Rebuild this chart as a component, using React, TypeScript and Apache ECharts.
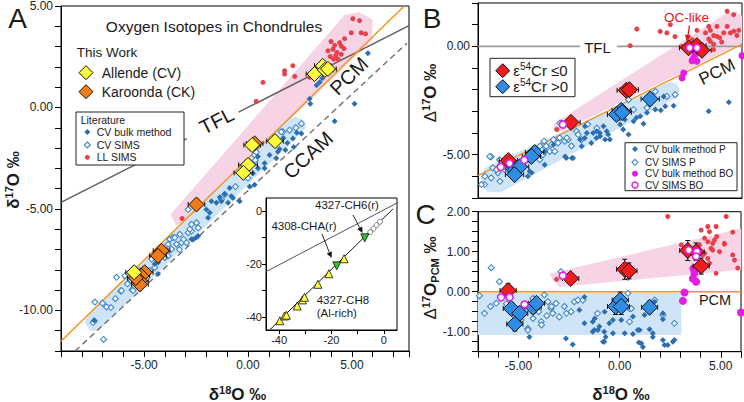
import React, { useEffect, useRef } from 'react';
import * as echarts from 'echarts';

const FONT = '"Liberation Sans", Arial, Helvetica, sans-serif';

// ---------------- Panel A: d17O vs d18O ----------------
const A_LL_SIMS = [[5.05,4.37],[5.37,4.28],[4.97,3.68],[5.45,3.68],[5.66,3.63],[4.65,3.39],[4.41,3.19],[4.17,3.06],[4.49,3.03],[3.85,2.79],[4.09,2.87],[4.28,2.71],[4.22,2.55],[4.49,2.62],[3.96,2.51],[4.33,2.38],[4.12,2.38],[2.16,2.06],[1.76,1.81],[1.76,1.65],[2.25,1.53],[0.72,1.24],[2.97,1.49],[3.21,1.44],[0.4,0.3],[-3.17,-5.47],[4.0,3.25],[4.62,2.9]];
const A_CV_BULK = [[5.77,2.67],[2.97,0.43],[3.0,0.18],[5.13,0.18],[4.17,-0.68],[3.45,1.24],[3.58,1.44],[3.3,1.1],[2.57,-1.28],[2.16,-1.53],[1.9,-1.75],[2.2,-1.95],[1.8,-2.1],[1.36,-2.5],[0.8,-3.0],[1.04,-2.34],[0.8,-2.75],[0.48,-3.0],[0.24,-3.24],[0.32,-3.81],[-0.88,-3.97],[-1.12,-4.26],[-1.36,-4.43],[-0.72,-4.46],[-1.52,-4.7],[-0.96,-4.7],[-1.84,-5.19],[-2.0,-5.03],[-1.92,-5.44],[-2.48,-6.41],[-2.64,-6.49],[1.44,-2.18],[1.52,-2.05],[0.48,-2.42],[0.08,-3.89],[-0.4,-4.62],[-1.76,-4.62],[-1.28,-4.62],[-0.8,-4.38],[-2.4,-6.33],[-2.72,-6.49],[-4.49,-7.71],[-4.33,-8.2],[-4.33,-7.64],[-7.4,-10.5],[1.7,-1.5],[2.35,-1.25]];
const A_CV_SIMS = [[-6.33,-8.37],[-7.37,-9.59],[-6.95,-11.43],[-7.0,-9.64],[-6.6,-9.86],[-6.38,-9.42],[-6.12,-9.05],[-5.93,-8.29],[-5.8,-8.69],[-5.58,-8.98],[-7.4,-10.52],[-7.45,-10.6],[-6.81,-9.83],[-5.61,-8.53],[-5.53,-9.02],[-6.09,-9.02],[-3.85,-6.74],[-3.28,-6.25],[-3.68,-6.98],[-3.76,-6.49],[-3.2,-6.66],[-4.64,-7.47],[-4.49,-7.88],[-4.73,-8.04],[-2.88,-6.17],[-4.81,-8.12],[-4.4,-7.39],[-3.85,-7.31],[-3.61,-6.41],[-2.96,-6.66],[-2.72,-6.09],[-2.48,-5.68],[-2.4,-5.93],[-2.88,-5.03],[-1.12,-4.29],[-5.2,-8.04],[-2.72,-5.76],[-2.8,-6.0],[-3.52,-6.41],[-3.44,-6.74],[-3.92,-7.06],[-4.0,-7.39],[-1.28,-4.54],[-3.1,-6.5],[-3.3,-7.0],[-4.2,-7.2],[1.68,-1.2],[0.32,-2.34],[0.4,-2.2],[0.0,-3.48],[1.6,-1.2],[2.0,-1.12],[2.57,-0.8],[0.35,-2.6],[2.3,-1.0],[-0.6,-3.9]];
// [d18O, d17O, xerr, yerr]
const A_ALLENDE = [[3.2,1.65,0.4,0.25],[3.6,2.05,0.4,0.25],[3.7,1.85,0.4,0.25],[3.85,1.9,0.4,0.25],[0.2,-1.85,0.4,0.25],[1.3,-1.66,0.4,0.25],[0.0,-2.83,0.45,0.25],[-0.22,-3.22,0.45,0.25],[-5.48,-8.12,0.4,0.25]];
const A_KAROONDA = [[0.32,-1.77,0.4,0.25],[-2.48,-4.78,0.4,0.25],[-4.16,-7.06,0.4,0.25],[-4.33,-7.31,0.4,0.25],[-4.97,-8.12,0.4,0.25],[-5.13,-8.3,0.4,0.25],[-5.2,-8.55,0.4,0.25],[-5.2,-8.72,0.4,0.25],[-5.4,-8.4,0.4,0.25]];
const A_TFL_1 = [[-9,-4.68],[-2.95,-1.53]];
const A_TFL_2 = [[-0.45,-0.23],[7.75,4.03]];
const A_PCM = [[-9,-11.52],[7.52,5]];
const A_CCAM = [[-8.32,-12],[7.65,3.17]];
const A_PINK = [[-3.72,-5.26],[4.65,4.56],[5.37,4.71],[6.0,4.32],[5.95,3.29],[-3.14,-5.7],[-3.48,-5.79]];
const A_BLUE = [[-7.85,-10.6],[-7.71,-10.25],[1.9,-0.62],[2.3,-0.45],[2.7,-0.62],[2.8,-1.0],[-7.22,-11.02],[-7.61,-11.0]];

// ---------------- Inset ----------------
const INSET_CH8 = [[-39.7,-41.5],[-37.9,-39.7],[-37.2,-39.4],[-33.1,-35.9],[-31.1,-33.6],[-30.3,-32.6],[-25.2,-27.7],[-21.0,-23.7],[-15.2,-18.0]];
const INSET_RIMS = [[-18.0,-20.7],[-7.3,-10.1]];
const INSET_OTHER = [[-5.2,-7.9],[-4.0,-6.6],[-2.8,-5.3],[-1.5,-4.0]];
const INSET_TFL = [[-45,-22.9],[5,3.1]];
const INSET_LINE = [[-43.6,-45],[3.5,0.9]];

// ---------------- Panel B: D17O vs d18O ----------------
const B_CR_NEG = [[3.37,-0.07,0.45,0.12],[3.78,0.03,0.45,0.12],[4.03,-0.18,0.45,0.12],[0.3,-2.03,0.45,0.12],[0.45,-2.0,0.45,0.12],[-2.42,-3.51,0.45,0.1],[-5.51,-5.27,0.45,0.15]];
const B_CR_POS = [[1.48,-2.43,0.45,0.1],[0.05,-2.95,0.45,0.12],[-0.18,-3.15,0.45,0.12],[0.1,-3.05,0.45,0.12],[-4.21,-4.9,0.45,0.12],[-4.37,-5.08,0.45,0.12],[-5.36,-5.55,0.45,0.12],[-4.95,-5.56,0.45,0.12],[-5.2,-5.92,0.45,0.12]];
const B_LL_SIMS = [[5.27,1.62],[5.59,1.46],[2.47,1.0],[0.82,0.8],[0.49,0.03],[1.97,0.69],[2.3,0.62],[2.7,0.45],[3.78,0.74],[4.36,0.92],[4.44,0.74],[4.6,0.5],[4.77,0.92],[5.27,0.92],[5.6,0.7],[5.75,0.5],[4.2,0.62],[4.36,0.34],[4.6,0.1],[4.77,0.46],[5.0,0.2],[5.1,0.62],[5.43,0.62],[4.44,0.23],[4.6,-0.15],[5.84,0.74],[3.54,0.31],[3.05,0],[-3.12,-3.84],[4.9,0.4]];
const B_CV_BULK_P = [[5.35,-2.58],[4.36,-3.0],[2.14,-2.31],[2.22,-2.77],[2.63,-2.74],[1.73,-2.92],[2.0,-2.95],[1.32,-3.07],[0.99,-3.23],[0.8,-3.3],[0.66,-3.46],[1.15,-3.57],[0.41,-4.07],[-0.82,-3.69],[-0.66,-3.92],[-0.99,-4.15],[-1.15,-3.92],[-0.74,-4.3],[-1.64,-4.0],[-1.73,-3.69],[-1.97,-4.3],[-1.89,-4.61],[-2.71,-5.08],[-2.38,-5.15],[0,-3.61],[-3.7,-4.85],[-3.29,-4.54],[-4.36,-5.84],[-2.65,-5.15],[-2.32,-5.15],[-1.74,-4.23],[-1.33,-4.0],[-1.17,-4.23],[-1.0,-4.0],[-1.42,-4.46],[-0.59,-4.07],[-0.51,-4.3],[0.23,-3.38],[0.15,-3.84],[-3.72,-5.46],[-4.46,-5.77],[-4.54,-6.0]];
const B_CV_SIMS_P = [[-6.68,-6.38],[-6.35,-6.07],[-6.35,-5.1],[-5.94,-5.23],[-5.69,-5.69],[-4.87,-5.38],[-4.54,-5.23],[-3.96,-5.23],[-3.8,-5.0],[-3.88,-4.77],[-3.64,-4.61],[-3.47,-4.85],[-3.39,-4.54],[-3.22,-4.38],[-3.06,-4.46],[-2.98,-4.23],[-2.73,-4.38],[-2.57,-4.31],[-2.15,-3.92],[-2.07,-4.07],[-1.91,-4.31],[-3.22,-4.85],[-5.53,-5.69],[-6.02,-5.84],[-6.27,-5.61],[1.73,-2.08],[2.71,-2.23],[2.3,-2.31],[0.41,-2.46],[0.66,-2.92],[1.32,-2.84],[0,-3.3],[-1.15,-3.77],[-2.96,-3.54],[-6.83,-6.38],[-6.66,-6.0],[-6.42,-5.08],[-6.09,-5.69],[-5.92,-6.23],[-3.95,-4.61],[-3.75,-4.38],[-3.29,-4.31],[-2.63,-4.23],[-4.3,-5.1],[-5.1,-5.9],[-2.4,-4.6],[-1.6,-3.6]];
const B_CV_BULK_BO = [[3.7,-0.38],[3.62,-0.54],[3.78,-0.69],[3.54,-0.66],[3.13,-1.23],[3.05,-1.46],[6.0,-0.43]];
const B_CV_SIMS_BO = [[3.42,-0.07],[3.78,-0.07],[-2.82,-3.61],[-5.45,-5.4],[-4.72,-5.25],[-5.88,-5.57]];
const B_TFL_1 = [[-7,0],[-1.97,0]];
const B_TFL_2 = [[-0.16,0],[6,0]];
const B_PCM = [[-7,-5.97],[6,0.1]];
const B_PINK = [[-3.3,-3.84],[-3.21,-3.53],[5.27,1.54],[5.7,1.6],[6,1.4],[6,0.16],[-2.88,-3.92]];
const B_BLUE = [[-6.9,-6.05],[-6.65,-5.6],[2.4,-1.65],[2.75,-1.7],[2.95,-2.0],[2.8,-2.35],[2.5,-2.5],[-5.9,-6.75],[-6.55,-6.7]];

// ---------------- Panel C: D17O(PCM) vs d18O ----------------
const C_CR_NEG = [[-5.51,0.03,0.4,0.17],[-2.42,0.33,0.4,0.08],[0.25,0.56,0.4,0.25],[0.46,0.52,0.4,0.2],[3.37,1.03,0.4,0.25],[3.78,1.0,0.4,0.22],[4.03,0.64,0.4,0.2]];
const C_CR_POS = [[-5.35,-0.42,0.4,0.15],[-4.94,-0.54,0.4,0.15],[-5.18,-0.81,0.4,0.17],[-4.28,-0.39,0.4,0.15],[-4.11,-0.29,0.4,0.15],[-0.2,-0.37,0.4,0.2],[0.03,-0.21,0.4,0.2],[0.08,-0.37,0.4,0.2],[1.48,-0.39,0.4,0.15]];
const C_LL_SIMS = [[2.38,1.88],[5.27,1.88],[4.77,1.63],[4.03,1.54],[4.44,1.5],[4.36,1.63],[5.18,1.21],[4.69,1.29],[4.6,1.21],[4.6,1.04],[4.94,1.0],[3.95,1.17],[5.59,0.92],[5.68,0.79],[4.44,0.71],[5.84,0.59],[3.05,1.17],[-3.12,0.31],[4.2,0.96],[4.8,1.38],[4.2,1.34],[4.36,1.25],[4.52,1.08],[4.11,0.92],[4.36,0.83],[4.77,0.46],[5.59,1.49],[5.18,1.19]];
const C_CV_BULK_P = [[-4.94,-0.75],[-4.46,-1.13],[-2.65,-1.17],[-2.32,-1.32],[-1.74,-0.13],[-1.99,-0.46],[-1.74,-0.79],[-1.33,-0.75],[-1.25,-0.96],[-1.0,-0.87],[-0.76,-1.0],[-0.51,-0.79],[-0.76,-1.25],[-1.33,-1.0],[-0.69,-1.13],[0.66,-0.62],[0.99,-0.96],[0.66,-1.06],[1.07,-1.29],[1.48,-0.94],[1.64,-1.13],[1.73,-0.25],[2.14,-0.54],[2.14,-0.69],[2.14,-1.21],[2.22,-1.33],[2.63,-1.25],[1.15,-1.38],[0.25,-1.04],[-1.23,-0.67],[-1.07,-0.96],[-0.74,-0.5],[-0.33,-0.71],[0.08,-0.71],[0.9,-0.96],[0.95,-1.27],[1.23,-0.58],[1.64,-1.04],[2.38,-1.33],[2.71,-1.21],[-0.82,-1.25],[-0.33,-1.04]];
const C_CV_SIMS_P = [[-6.35,0.6],[-5.94,0.25],[-6.93,-0.1],[-6.68,-0.54],[-6.38,-0.37],[-6.1,-0.29],[-4.87,-0.71],[-4.54,-0.92],[-3.88,-0.75],[-3.72,-0.08],[-3.55,-0.25],[-3.39,-0.42],[-3.3,-0.54],[-3.14,-0.29],[-2.98,-0.63],[-2.73,-0.37],[-2.4,-0.5],[-2.24,-0.25],[-2.9,0.5],[-4.29,-0.17],[-1.09,-0.54],[-4.28,-0.67],[-4.53,-0.96],[-3.86,-0.83],[-3.37,-0.37],[-2.63,-0.54],[-2.06,-0.21],[0.41,0.36],[0.41,-0.04],[0.49,-0.42],[0.49,-0.75],[1.73,-0.21],[2.71,-0.79],[-1.81,-0.21],[0.58,-0.42],[2.14,-0.58],[-5.2,-0.45],[-4.7,-0.55],[-5.6,-0.3],[-4.0,-0.5],[-3.6,-0.6]];
const C_CV_BULK_BO = [[3.65,0.58],[3.7,0.46],[3.62,0.33],[3.78,0.25],[3.21,-0.02],[3.13,-0.23],[6.0,-0.52]];
const C_CV_SIMS_BO = [[-5.86,-0.14],[-5.44,-0.14],[-4.7,-0.32],[-2.81,0.4],[3.42,1.04],[3.82,1.0],[3.78,0.88]];
const C_PCM = [[-7,0],[6,0]];
const C_PINK = [[-3.5,0.45],[6,1.58],[6,0.55],[-3.0,0.12]];
const C_BLUE = [[-7,-0.03],[3.05,-0.03],[3.05,-1.08],[-7,-1.08]];

// ---------------- styles ----------------
const COL = {
  ll: '#e8404a', bulk: '#2c6fb0', sims: '#3f87cc', mag: '#e41ce4',
  yellow: '#ffff3c', orange: '#f37b16', red: '#ee1c1c', blue: '#2f8de6',
  pink: '#f7d3e6', lblue: '#cfe5f7', pcm: '#f7931e', tfl: '#5f5f5f',
};

function polySeries(g: number, poly: number[][], color: string, z: number) {
  return {
    type: 'custom', xAxisIndex: g, yAxisIndex: g, z, silent: true, clip: true,
    data: [[poly[0][0], poly[0][1]]],
    renderItem: (_p: any, api: any) => ({
      type: 'polygon',
      shape: { points: poly.map((p) => api.coord(p)) },
      style: { fill: color },
    }),
  };
}
function lineSeries(g: number, data: number[][], color: string, width: number, z: number, dash?: number[]) {
  return {
    type: 'line', xAxisIndex: g, yAxisIndex: g, data, showSymbol: false, symbol: 'none', silent: true, z, clip: true,
    lineStyle: { color, width, type: dash ? dash : 'solid' },
  };
}
function sc(g: number, data: number[][], symbol: string, size: number, fill: string, stroke: string, bw: number, z: number, rotate = 0) {
  return {
    type: 'scatter', xAxisIndex: g, yAxisIndex: g, data, symbol, symbolSize: size, symbolRotate: rotate,
    silent: true, z, clip: true,
    itemStyle: { color: fill, borderColor: stroke, borderWidth: bw, opacity: 1 },
  };
}
function errSeries(g: number, data: number[][], z: number) {
  return {
    type: 'custom', xAxisIndex: g, yAxisIndex: g, z, silent: true, clip: true,
    data, encode: { x: 0, y: 1 },
    renderItem: (_p: any, api: any) => {
      const x = api.value(0), y = api.value(1), xe = api.value(2), ye = api.value(3);
      const l = api.coord([x - xe, y]), r = api.coord([x + xe, y]);
      const t = api.coord([x, y + ye]), b = api.coord([x, y - ye]);
      const st = { stroke: '#111', lineWidth: 1 };
      const c = 2.5;
      const ln = (x1: number, y1: number, x2: number, y2: number) => ({ type: 'line', shape: { x1, y1, x2, y2 }, style: st });
      return {
        type: 'group',
        children: [
          ln(l[0], l[1], r[0], r[1]), ln(l[0], l[1] - c, l[0], l[1] + c), ln(r[0], r[1] - c, r[0], r[1] + c),
          ln(t[0], t[1], b[0], b[1]), ln(t[0] - c, t[1], t[0] + c, t[1]), ln(b[0] - c, b[1], b[0] + c, b[1]),
        ],
      };
    },
  };
}

function axis(g: number, min: number, max: number, interval: number, fmt: any, opts: any = {}) {
  return {
    type: 'value', gridIndex: g, min, max, interval, z: opts.z || 0,
    axisLine: { show: true, onZero: false, lineStyle: { color: '#000', width: 1 } },
    axisTick: { show: opts.tick !== false, inside: false, length: opts.tickLen || 6, lineStyle: { color: '#000', width: 1 }, customValues: opts.tickValues },
    axisLabel: { show: opts.label !== false, formatter: fmt, fontSize: opts.fs || 12, color: '#222', fontFamily: FONT, margin: opts.margin || 8, customValues: opts.labelValues },
    splitLine: { show: false },
  };
}
const fmt5 = (v: number) => (Math.abs(v % 5) < 1e-9 ? v.toFixed(2) : '');
const fmtInt = (v: number) => (Math.abs(v - Math.round(v)) < 1e-9 ? v.toFixed(2) : '');
const fmtInset = (v: number) => ([-40, -20, 0].indexOf(v) >= 0 ? String(v) : '');

// ---------------- graphic helpers ----------------
function txt(x: number, y: number, text: string, size: number, o: any = {}) {
  return {
    type: 'text', x, y, rotation: o.rot || 0, z: 100,
    style: {
      text, fill: o.color || '#1a1a1a', font: `${o.weight || 'normal'} ${size}px ${FONT}`,
      textAlign: o.align || 'left', textVerticalAlign: 'middle', rich: o.rich,
    },
  };
}
function dia(cx: number, cy: number, h: number, fill: string, stroke: string, lw: number) {
  return { type: 'polygon', z: 100, shape: { points: [[cx, cy - h], [cx + h, cy], [cx, cy + h], [cx - h, cy]] }, style: { fill, stroke, lineWidth: lw } };
}
function circ(cx: number, cy: number, r: number, fill: string, stroke: string, lw: number) {
  return { type: 'circle', z: 100, shape: { cx, cy, r }, style: { fill, stroke, lineWidth: lw } };
}
function box(x: number, y: number, w: number, h: number) {
  return { type: 'rect', z: 99, shape: { x, y, width: w, height: h }, style: { fill: '#fff', stroke: '#222', lineWidth: 1 } };
}
function arrow(x1: number, y1: number, x2: number, y2: number, color: string, head = 7, w = 3.2, lw = 1) {
  const dx = x2 - x1, dy = y2 - y1, L = Math.hypot(dx, dy), ux = dx / L, uy = dy / L;
  const bx = x2 - ux * head, by = y2 - uy * head;
  return [
    { type: 'line', z: 100, shape: { x1, y1, x2: bx, y2: by }, style: { stroke: color, lineWidth: lw } },
    { type: 'polygon', z: 100, shape: { points: [[x2, y2], [bx - uy * w, by + ux * w], [bx + uy * w, by - ux * w]] }, style: { fill: color } },
  ];
}
const supRich = (size: number, sup: number, bold: boolean) => ({
  b: { fontSize: size, fontWeight: bold ? 'bold' : 'normal', fontFamily: FONT, fill: '#1a1a1a', lineHeight: size + 3 },
  n: { fontSize: size, fontWeight: 'normal', fontFamily: FONT, fill: '#1a1a1a', lineHeight: size + 3 },
  s: { fontSize: sup, fontWeight: bold ? 'bold' : 'normal', fontFamily: FONT, fill: '#1a1a1a', verticalAlign: 'top', lineHeight: sup + 1 },
  u: { fontSize: sup, fontWeight: bold ? 'bold' : 'normal', fontFamily: FONT, fill: '#1a1a1a', verticalAlign: 'bottom', lineHeight: sup + 1 },
});

function buildOption() {
  const series: any[] = [
    // Panel A
    polySeries(0, A_PINK, COL.pink, 1),
    polySeries(0, A_BLUE, COL.lblue, 1),
    lineSeries(0, A_TFL_1, COL.tfl, 1.4, 2),
    lineSeries(0, A_TFL_2, COL.tfl, 1.4, 2),
    lineSeries(0, A_CCAM, '#707070', 1.4, 2, [6, 4]),
    lineSeries(0, A_PCM, COL.pcm, 1.5, 2),
    sc(0, A_LL_SIMS, 'circle', 5, COL.ll, COL.ll, 0, 3),
    sc(0, A_CV_SIMS, 'diamond', 6, '#fff', COL.sims, 1.1, 3),
    sc(0, A_CV_BULK, 'diamond', 6, COL.bulk, COL.bulk, 0, 3),
    errSeries(0, A_KAROONDA, 4),
    errSeries(0, A_ALLENDE, 4),
    sc(0, A_KAROONDA, 'diamond', 15, COL.orange, '#111', 1, 5),
    sc(0, A_ALLENDE, 'diamond', 15, COL.yellow, '#111', 1, 6),
    // Inset
    lineSeries(1, INSET_TFL, '#555', 1, 10),
    lineSeries(1, INSET_LINE, '#111', 1, 10),
    sc(1, INSET_OTHER, 'circle', 5, '#fff', '#666', 0.8, 11),
    sc(1, INSET_CH8, 'triangle', 8, '#ffff3c', '#111', 0.8, 11),
    sc(1, INSET_RIMS, 'triangle', 8, '#2fc12f', '#111', 0.8, 11, 180),
    // Panel B
    polySeries(2, B_PINK, COL.pink, 1),
    polySeries(2, B_BLUE, COL.lblue, 1),
    lineSeries(2, B_TFL_1, '#9c9c9c', 1.6, 2),
    lineSeries(2, B_TFL_2, '#9c9c9c', 1.6, 2),
    lineSeries(2, B_PCM, COL.pcm, 1.5, 2),
    sc(2, B_LL_SIMS, 'circle', 5, COL.ll, COL.ll, 0, 3),
    sc(2, B_CV_SIMS_P, 'diamond', 6, '#fff', COL.sims, 1.1, 3),
    sc(2, B_CV_BULK_P, 'diamond', 6, COL.bulk, COL.bulk, 0, 3),
    sc(2, B_CV_BULK_BO, 'circle', 7, COL.mag, COL.mag, 0, 3),
    errSeries(2, B_CR_POS, 4),
    errSeries(2, B_CR_NEG, 4),
    sc(2, B_CR_POS, 'diamond', 16, COL.blue, '#111', 1, 5),
    sc(2, B_CR_NEG, 'diamond', 16, COL.red, '#111', 1, 5),
    sc(2, B_CV_SIMS_BO, 'circle', 7, '#fff', COL.mag, 1.6, 6),
    // Panel C
    polySeries(3, C_PINK, COL.pink, 1),
    polySeries(3, C_BLUE, COL.lblue, 1),
    lineSeries(3, C_PCM, COL.pcm, 1.5, 2),
    sc(3, C_LL_SIMS, 'circle', 5, COL.ll, COL.ll, 0, 3),
    sc(3, C_CV_SIMS_P, 'diamond', 6, '#fff', COL.sims, 1.1, 3),
    sc(3, C_CV_BULK_P, 'diamond', 6, COL.bulk, COL.bulk, 0, 3),
    sc(3, C_CV_BULK_BO, 'circle', 8, COL.mag, COL.mag, 0, 3),
    errSeries(3, C_CR_POS, 4),
    errSeries(3, C_CR_NEG, 4),
    sc(3, C_CR_POS, 'diamond', 16, COL.blue, '#111', 1, 5),
    sc(3, C_CR_NEG, 'diamond', 16, COL.red, '#111', 1, 5),
    sc(3, C_CV_SIMS_BO, 'circle', 7, '#fff', COL.mag, 1.6, 6),
  ];

  const rA = supRich(17, 11, true);
  const graphic: any[] = [
    // panel letters
    txt(17.5, 18, 'A', 28, { align: 'center' }),
    txt(432, 18, 'B', 28, { align: 'center' }),
    txt(425.5, 214, 'C', 28, { align: 'center' }),
    // axis titles
    txt(13, 180, '{b|δ}{s|17}{b|O ‰}', 17, { align: 'center', rot: Math.PI / 2, rich: rA }),
    txt(237.5, 394, '{b|δ}{s|18}{b|O ‰}', 17, { align: 'center', rich: rA }),
    txt(621, 394, '{b|δ}{s|18}{b|O ‰}', 17, { align: 'center', rich: rA }),
    txt(430, 93, '{n|Δ}{s|17}{b|O ‰}', 17, { align: 'center', rot: Math.PI / 2, rich: rA }),
    txt(430, 278, '{n|Δ}{s|17}{b|O}{u|PCM}{b| ‰}', 17, { align: 'center', rot: Math.PI / 2, rich: rA }),
    // panel A annotations
    txt(214, 26, 'Oxygen Isotopes in Chondrules', 15.5, { align: 'center' }),
    txt(76.7, 52.7, 'This Work', 13.5),
    dia(86, 72.7, 7, COL.yellow, '#111', 1),
    txt(101.7, 72.7, 'Allende (CV)', 14),
    dia(86, 91.7, 7, COL.orange, '#111', 1),
    txt(101.7, 91.7, 'Karoonda (CK)', 14),
    box(76, 112, 108, 53),
    txt(80.7, 120, 'Literature', 10.5),
    dia(87.3, 132, 3, COL.bulk, COL.bulk, 0),
    txt(96.7, 132, 'CV bulk method', 10.5),
    dia(87.3, 145, 3, '#fff', COL.sims, 1.1),
    txt(96.7, 145, 'CV SIMS', 10.5),
    circ(87.3, 157.3, 2.5, COL.ll, COL.ll, 0),
    txt(96.7, 157.3, 'LL SIMS', 10.5),
    txt(216.7, 120.7, 'TFL', 20, { align: 'center', rot: 0.473 }),
    txt(349, 76, 'PCM', 20, { align: 'center', rot: 0.777 }),
    txt(308, 155, 'CCAM', 20, { align: 'center', rot: 0.75 }),
    // inset annotations
    txt(347, 205, '4327-CH6(r)', 11.5, { align: 'center' }),
    txt(304, 226, '4308-CHA(r)', 11.5, { align: 'center' }),
    txt(316.7, 300, '4327-CH8', 11.5),
    txt(316.7, 313, '(Al-rich)', 11.5),
    ...arrow(353, 215, 362.5, 233, '#111', 6, 2.8, 0.9),
    ...arrow(322, 234, 331.5, 258, '#111', 6, 2.8, 0.9),
    // panel B annotations
    txt(597.5, 47, 'TFL', 15, { align: 'center' }),
    txt(717, 72, 'PCM', 17, { align: 'center', rot: 0.46 }),
    txt(686.5, 17.5, 'OC-like', 13.5, { align: 'center', color: '#e3161d' }),
    ...arrow(689.5, 25.5, 687, 42, '#e3161d', 7, 3.2, 1.3),
    box(490, 58.3, 85, 38.4),
    dia(502.7, 70.7, 7, COL.red, '#111', 1),
    txt(513.3, 70.7, '{n|ε}{s|54}{n|Cr ≤0}', 15, { rich: supRich(15, 10, false) }),
    dia(502.7, 86.7, 7, COL.blue, '#111', 1),
    txt(513.3, 86.7, '{n|ε}{s|54}{n|Cr >0}', 15, { rich: supRich(15, 10, false) }),
    box(625, 142.7, 112, 48),
    dia(635, 149, 3, COL.bulk, COL.bulk, 0),
    txt(645, 149, 'CV bulk method P', 10),
    dia(635, 162.3, 3, '#fff', COL.sims, 1.1),
    txt(645, 162.3, 'CV SIMS P', 10),
    circ(635, 173.7, 3, COL.mag, COL.mag, 0),
    txt(645, 173.7, 'CV bulk method BO', 10),
    circ(635, 185, 3, '#fff', COL.mag, 1.4),
    txt(645, 185, 'CV SIMS BO', 10),
    // panel C annotations
    txt(715, 300, 'PCM', 14.5, { align: 'center' }),
  ];

  return {
    animation: false,
    backgroundColor: '#fff',
    grid: [
      { left: 61, top: 3, width: 348, height: 348, show: true, borderColor: '#000', borderWidth: 1, backgroundColor: 'transparent' },
      { left: 266, top: 198, width: 131, height: 132, show: true, borderColor: '#000', borderWidth: 1, backgroundColor: '#fff', z: 5 },
      { left: 478, top: 3, width: 264, height: 195, show: true, borderColor: '#000', borderWidth: 1, backgroundColor: 'transparent' },
      { left: 478, top: 211.7, width: 264, height: 140, show: true, borderColor: '#000', borderWidth: 1, backgroundColor: 'transparent' },
    ],
    xAxis: [
      axis(0, -9, 7.75, 1, fmt5),
      axis(1, -45, 5, 5, fmtInset, { z: 6, fs: 11, margin: 4, tickLen: 4, tickValues: [-40, -30, -20, -10, 0], labelValues: [-40, -20, 0] }),
      axis(2, -7, 6, 1, fmt5, { label: false, tick: false }),
      axis(3, -7, 6, 1, fmt5),
    ],
    yAxis: [
      axis(0, -12, 5, 1, fmt5),
      axis(1, -45, 5, 5, fmtInset, { z: 6, fs: 11, margin: 4, tickLen: 4, tickValues: [-40, -30, -20, -10, 0], labelValues: [-40, -20, 0] }),
      axis(2, -7, 2, 1, fmt5),
      axis(3, -1.5, 2, 0.25, fmtInt),
    ],
    series,
    graphic,
  };
}

export default function App() {
  const ref = useRef<HTMLDivElement>(null);
  useEffect(() => {
    const chart = echarts.init(ref.current as HTMLDivElement, null, { renderer: 'svg' });
    chart.setOption(buildOption() as any);
    return () => chart.dispose();
  }, []);
  return (
    <div
      ref={ref}
      style={{ width: 744, height: 402, position: 'absolute', left: 0, top: 0, background: '#fff' }}
    />
  );
}
